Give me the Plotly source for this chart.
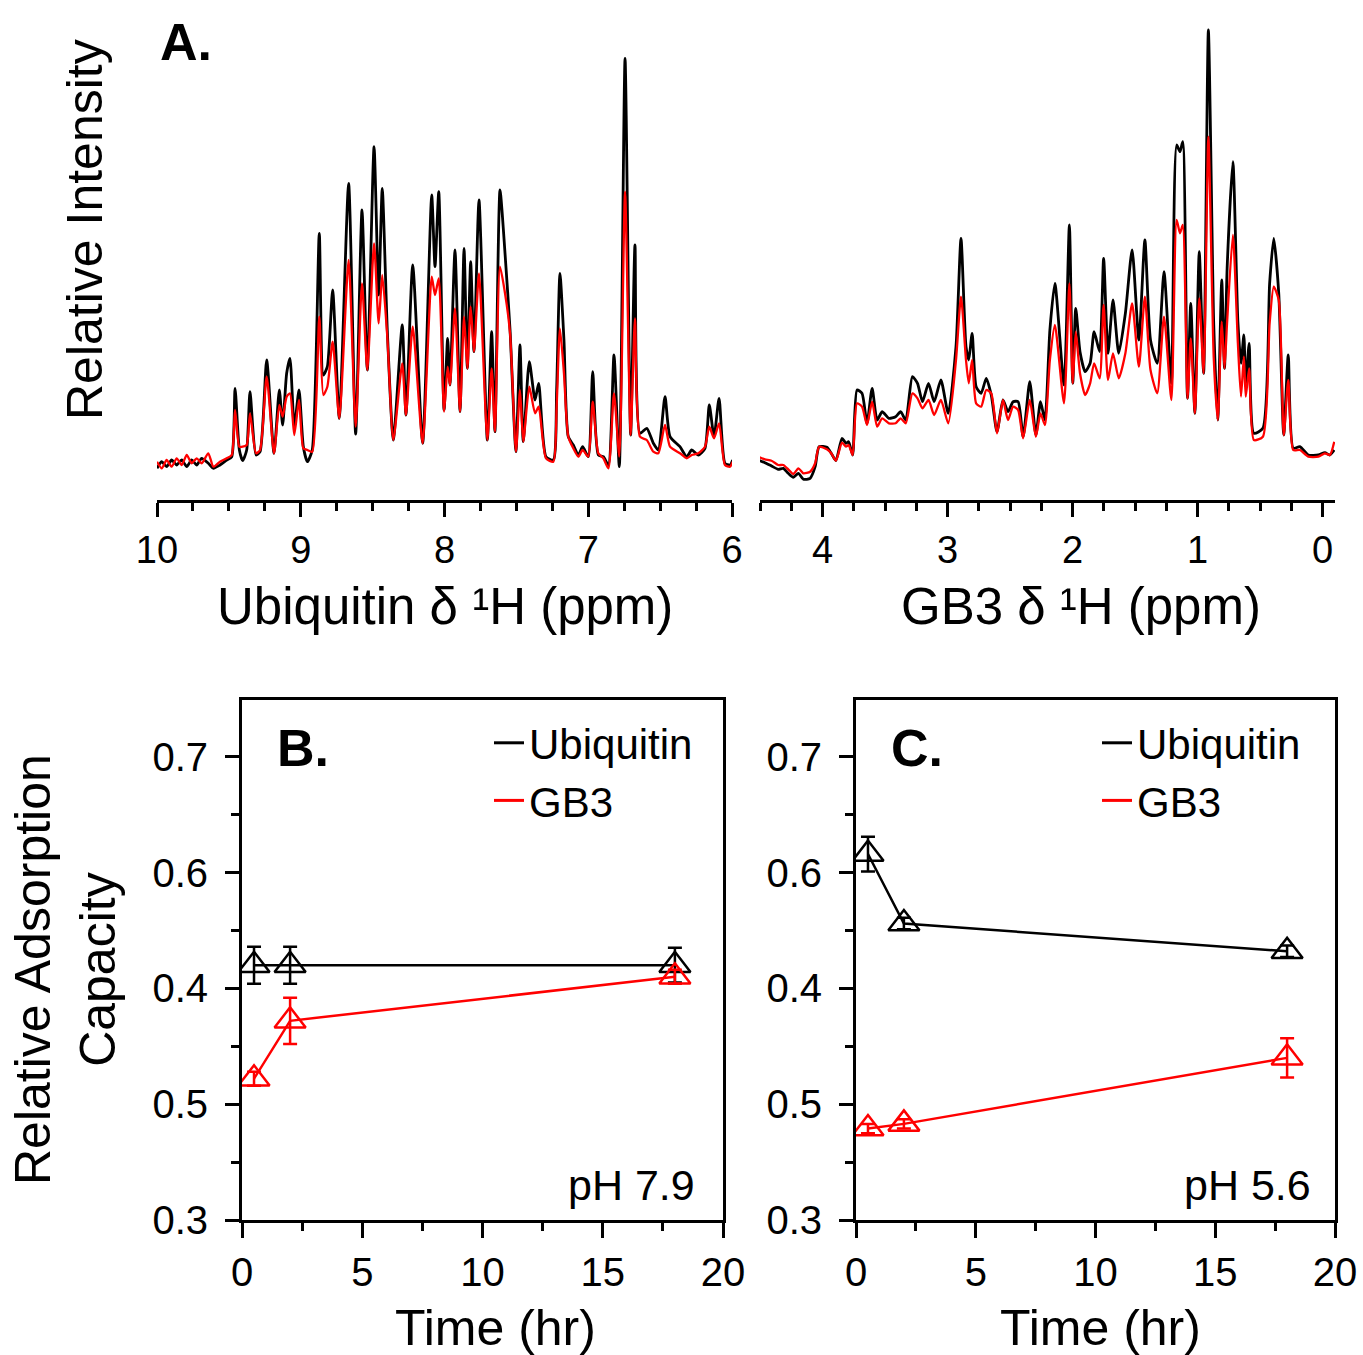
import plotly.graph_objects as go

W, H = 1363, 1355
FONT = "Liberation Sans, Arial, Helvetica, sans-serif"

# ---------------- Panel A: 1H spectra (relative intensity, arbitrary units) -------------
ubq_ppm = [10.00, 9.967, 9.933, 9.898, 9.863, 9.828, 9.793, 9.759, 9.724, 9.689, 9.643, 9.608, 9.562, 9.515,
           9.480, 9.457, 9.427, 9.404, 9.376, 9.353, 9.311, 9.283, 9.237, 9.186, 9.149, 9.126, 9.098, 9.075,
           9.045, 9.012, 8.982, 8.954, 8.920, 8.871, 8.843, 8.815, 8.778, 8.732, 8.667, 8.618, 8.574, 8.537,
           8.490, 8.458, 8.433, 8.398, 8.356, 8.294, 8.268, 8.221, 8.152, 8.089, 8.066, 8.040, 8.003, 7.978,
           7.962, 7.927, 7.892, 7.864, 7.841, 7.818, 7.795, 7.760, 7.702, 7.672, 7.649, 7.614, 7.579, 7.544,
           7.503, 7.475, 7.452, 7.410, 7.370, 7.345, 7.294, 7.243, 7.220, 7.197, 7.169, 7.139, 7.104, 7.069,
           7.039, 7.000, 6.969, 6.930, 6.895, 6.860, 6.821, 6.784, 6.744, 6.705, 6.675, 6.640, 6.593, 6.547,
           6.513, 6.466, 6.431, 6.362, 6.315, 6.280, 6.234, 6.188, 6.158, 6.125, 6.090, 6.049, 6.014, 5.995]
ubq_black = [1.7, 8.3, 3.3, 10, 5, 10, 3.3, 10, 5, 11.7, 6.7, 1.7, 5, 10,
             13.3, 81.7, 20, 9.3, 20, 78.3, 15, 18.3, 110, 16.7, 80, 45, 96.7, 111.7,
             43.3, 80, 23.3, 8.3, 20, 236.7, 95, 103.3, 180, 51.7, 286.7, 36, 260, 100,
             323.3, 175, 281.7, 140, 30, 145, 55, 205, 26.7, 275, 203.3, 278.3, 60, 131.7,
             85, 220, 58.3, 221.7, 101.7, 208.3, 118.3, 270, 30, 138.3, 38.3, 280, 216.7, 140,
             18.3, 125, 28.3, 108.3, 70, 86.7, 13.3, 10, 80, 196.7, 130, 33.3, 25, 15,
             23.3, 13.3, 98.3, 15, 13.3, 5, 115, 3.3, 411.7, 35, 225, 36.7, 41.7, 26.7,
             20, 73.3, 33.3, 23.3, 13.3, 20, 15, 21.7, 65, 33.3, 71.7, 6.7, 5, 10]
ubq_red = [8.3, 1.7, 10, 3.3, 11.7, 5, 15, 6.7, 11.7, 6.7, 16.7, 3.3, 8.3, 11.7,
           15, 60, 23.3, 23.3, 25, 56.7, 16.7, 20, 93.3, 16.7, 65, 53.3, 73.3, 76.7,
           35, 70, 21.7, 20, 18.3, 153.3, 75, 83.3, 128.3, 51.7, 210, 43.3, 186.7, 100,
           226.7, 146.7, 195, 133.3, 30, 106.7, 55, 143.3, 26.7, 193.3, 175, 191.7, 58.3, 103.3,
           85, 161.7, 58.3, 153.3, 101.7, 163.3, 118.3, 196.7, 30, 101.7, 38.3, 203.3, 176.7, 136.7,
           18.3, 80, 28.3, 83.3, 56.7, 63.3, 11.7, 8.3, 63.3, 141.7, 96.7, 33.3, 21.7, 13.3,
           20, 13.3, 68.3, 16.7, 11.7, 1.7, 76.7, 13.3, 278.3, 35, 151.7, 33.3, 30, 18.3,
           16.7, 45, 23.3, 16.7, 11.7, 15, 16.7, 23.3, 43.3, 31.7, 46.7, 5, 3.3, 8.3]

gb3_ppm = [4.515, 4.461, 4.408, 4.354, 4.314, 4.274, 4.233, 4.193, 4.153, 4.099, 4.059, 4.027, 3.965, 3.930,
           3.893, 3.844, 3.812, 3.791, 3.759, 3.724, 3.684, 3.644, 3.603, 3.563, 3.523, 3.469, 3.415, 3.375,
           3.334, 3.281, 3.240, 3.200, 3.152, 3.107, 3.053, 2.994, 2.932, 2.892, 2.852, 2.830, 2.803, 2.771,
           2.731, 2.690, 2.650, 2.604, 2.556, 2.516, 2.475, 2.435, 2.395, 2.342, 2.293, 2.256, 2.221, 2.181,
           2.141, 2.068, 2.025, 1.998, 1.974, 1.940, 1.899, 1.859, 1.827, 1.783, 1.751, 1.716, 1.676, 1.630,
           1.577, 1.523, 1.469, 1.421, 1.376, 1.322, 1.268, 1.209, 1.167, 1.140, 1.118, 1.080, 1.054, 1.021,
           0.986, 0.951, 0.913, 0.870, 0.838, 0.806, 0.784, 0.763, 0.717, 0.677, 0.652, 0.629, 0.614, 0.587,
           0.549, 0.477, 0.423, 0.390, 0.350, 0.310, 0.274, 0.234, 0.181, 0.114, 0.033, -0.019, -0.059, -0.094]
gb3_black = [10, 7.3, 4, 0.7, 1.7, -3.3, -7.3, -3.3, -9.3, -8.3, 3.3, 23.3, 22.7, 16.7,
             9.3, 31.7, 26.7, 28.3, 15, 80, 76.7, 46.7, 81.7, 50, 58.3, 51.7, 53.3, 58.3,
             50, 93.3, 86.7, 68.3, 86.7, 68.3, 90, 56.7, 123.3, 231.7, 123.3, 110, 136.7, 83.3,
             76.7, 91.7, 75, 38.3, 70, 58.3, 68.3, 68.3, 33.3, 88.3, 35, 68.3, 50, 140,
             186.7, 85, 245, 86.7, 161.7, 118.3, 98.3, 106.7, 138.3, 118.3, 211.7, 116.7, 170, 116.7,
             156.7, 220, 130, 230, 130, 106.7, 198.3, 86.7, 325, 318.3, 328.3, 71.7, 166.7, 56.7,
             218.3, 96.7, 440, 145, 50, 190, 101.7, 201.7, 308.3, 148.3, 106.7, 135, 83.3, 126.7,
             36.7, 41.7, 186.7, 231.7, 176.7, 35, 115, 21.7, 23.3, 15, 15, 17.3, 15, 20]
gb3_red = [13.3, 10.7, 9.3, 5, 5, 0.7, -4, 1.7, -3.3, -1.7, 6.7, 23.3, 20.7, 16.7,
           9.3, 27.3, 23.3, 25, 15, 66.7, 63.3, 45, 68.3, 43.3, 51.7, 46.7, 46.7, 51.7,
           46.7, 76.7, 71.7, 61.7, 70, 55, 70, 46.7, 110, 173.3, 110, 86.7, 110, 66.7,
           63.3, 80, 76.7, 36.7, 70, 50, 63.3, 60, 31.7, 70, 33.3, 56.7, 45, 110,
           145, 66.7, 186.7, 86.7, 138.3, 96.7, 75, 86.7, 106.7, 91.7, 165, 90, 116.7, 91.7,
           116.7, 166.7, 103.3, 173.3, 100, 76.7, 153.3, 70, 250, 236.7, 245, 71.7, 131.7, 56.7,
           171.7, 96.7, 333.3, 111.7, 50, 148.3, 101.7, 148.3, 235, 126.7, 73.3, 113.3, 73.3, 101.7,
           30, 33.3, 146.7, 183.3, 170, 35, 90, 20, 20, 13.3, 13.3, 16.7, 15, 28.3]

assert len(ubq_ppm) == len(ubq_black) == len(ubq_red), (len(ubq_ppm), len(ubq_black), len(ubq_red))
assert len(gb3_ppm) == len(gb3_black) == len(gb3_red), (len(gb3_ppm), len(gb3_black), len(gb3_red))

# ---------------- Panels B and C: adsorption capacity vs time ----------------
time_hr = [0.5, 2, 18]
b_ubq = [0.520, 0.520, 0.520]
b_ubq_err = [0.016, 0.016, 0.015]
b_gb3 = [0.422, 0.472, 0.510]
b_gb3_err = [0.006, 0.020, 0.006]
c_ubq = [0.616, 0.556, 0.532]
c_ubq_err = [0.015, 0.005, 0.005]
c_gb3 = [0.379, 0.383, 0.440]
c_gb3_err = [0.004, 0.004, 0.017]

y_tickvals = [0.3, 0.4, 0.5, 0.6, 0.7]
y_ticktext = ["0.3", "0.5", "0.4", "0.6", "0.7"]
x_tickvals_time = [0, 5, 10, 15, 20]

BLACK = "#000000"
RED = "#ff0000"

fig = go.Figure()

# spectra
for xs, ys, col, wd, xa, ya in [(ubq_ppm, ubq_black, BLACK, 2.8, "x", "y"),
                                 (ubq_ppm, ubq_red, RED, 2.3, "x", "y"),
                                 (gb3_ppm, gb3_black, BLACK, 2.8, "x2", "y2"),
                                 (gb3_ppm, gb3_red, RED, 2.3, "x2", "y2")]:
    fig.add_trace(go.Scatter(x=xs, y=ys, mode="lines",
                             line=dict(color=col, width=wd, shape="spline", smoothing=0.6),
                             xaxis=xa, yaxis=ya, showlegend=False))


def series(x, y, err, color, xa, ya):
    return go.Scatter(
        x=x, y=y, mode="lines+markers", xaxis=xa, yaxis=ya, showlegend=False,
        line=dict(color=color, width=2.5),
        marker=dict(symbol="triangle-up-open", size=27, color=color, line=dict(width=2.5, color=color)),
        error_y=dict(type="data", array=err, visible=True, color=color, thickness=2.5, width=7),
    )


fig.add_trace(series(time_hr, b_ubq, b_ubq_err, BLACK, "x3", "y3"))
fig.add_trace(series(time_hr, b_gb3, b_gb3_err, RED, "x3", "y3"))
fig.add_trace(series(time_hr, c_ubq, c_ubq_err, BLACK, "x4", "y4"))
fig.add_trace(series(time_hr, c_gb3, c_gb3_err, RED, "x4", "y4"))

# legend-only entries
for name, color, lg in [("Ubiquitin", BLACK, "legend"), ("GB3", RED, "legend"),
                        ("Ubiquitin", BLACK, "legend2"), ("GB3", RED, "legend2")]:
    fig.add_trace(go.Scatter(x=[None], y=[None], mode="lines", name=name,
                             line=dict(color=color, width=3), legend=lg,
                             xaxis="x3" if lg == "legend" else "x4",
                             yaxis="y3" if lg == "legend" else "y4"))


def px_x(p):
    return p / W


def px_y(p):
    return 1 - p / H


spec_x_common = dict(
    automargin=False,
    showline=True, linecolor="black", linewidth=3, ticks="outside", ticklen=14, tickwidth=3,
    tickcolor="black", dtick=1, tick0=0, showgrid=False, zeroline=False,
    tickfont=dict(size=38, family=FONT, color="black"),
    minor=dict(ticks="outside", ticklen=8, tickwidth=3, tickcolor="black", dtick=0.25, showgrid=False),
)
spec_y_common = dict(automargin=False, range=[-30, 460], visible=False, showgrid=False, zeroline=False)

time_x_common = dict(
    automargin=False,
    range=[0, 20], tickvals=x_tickvals_time, showline=True, mirror=True, linecolor="black", linewidth=3,
    ticks="outside", ticklen=15, tickwidth=3, tickcolor="black", showgrid=False, zeroline=False,
    tickfont=dict(size=40, family=FONT, color="black"),
    minor=dict(ticks="outside", ticklen=8, tickwidth=3, tickcolor="black", dtick=2.5, showgrid=False),
)
time_y_common = dict(
    automargin=False,
    range=[0.3, 0.749], tickvals=y_tickvals, ticktext=y_ticktext, showline=True, mirror=True,
    linecolor="black", linewidth=3, ticks="outside", ticklen=14, tickwidth=3, tickcolor="black",
    ticklabelstandoff=9,
    showgrid=False, zeroline=False, tickfont=dict(size=40, family=FONT, color="black"),
    minor=dict(ticks="outside", ticklen=8, tickwidth=3, tickcolor="black",
               tickvals=[0.35, 0.45, 0.55, 0.65], showgrid=False),
)

fig.update_layout(
    template="none",
    width=W, height=H, autosize=False,
    margin=dict(l=0, r=0, t=0, b=0, pad=0),
    paper_bgcolor="white", plot_bgcolor="rgba(0,0,0,0)",
    font=dict(family=FONT, color="black"),
    xaxis=dict(domain=[px_x(157), px_x(732)], anchor="y", range=[10, 6], **spec_x_common),
    yaxis=dict(domain=[px_y(500), px_y(10)], anchor="x", **spec_y_common),
    xaxis2=dict(domain=[px_x(760), px_x(1335)], anchor="y2", range=[4.5, -0.1], **spec_x_common),
    yaxis2=dict(domain=[px_y(500), px_y(10)], anchor="x2", **spec_y_common),
    xaxis3=dict(domain=[px_x(242), px_x(723)], anchor="y3", **time_x_common),
    yaxis3=dict(domain=[px_y(1220), px_y(700)], anchor="x3", **time_y_common),
    xaxis4=dict(domain=[px_x(856), px_x(1335)], anchor="y4", **time_x_common),
    yaxis4=dict(domain=[px_y(1220), px_y(700)], anchor="x4", **time_y_common),
    legend=dict(x=px_x(698), y=px_y(709), xanchor="right", yanchor="top", bgcolor="rgba(0,0,0,0)",
                font=dict(size=42, family=FONT, color="black"), tracegroupgap=0, itemwidth=30),
    legend2=dict(x=px_x(1306), y=px_y(709), xanchor="right", yanchor="top", bgcolor="rgba(0,0,0,0)",
                 font=dict(size=42, family=FONT, color="black"), tracegroupgap=0, itemwidth=30),
)

ann = []


def add_text(text, x, y, size, xanchor="center", yanchor="middle", bold=False, angle=0):
    if bold:
        text = "<b>" + text + "</b>"
    ann.append(dict(text=text, x=px_x(x), y=px_y(y), xref="paper", yref="paper", showarrow=False,
                    xanchor=xanchor, yanchor=yanchor, textangle=angle,
                    font=dict(size=size, family=FONT, color="black")))


add_text("A.", 158, 42, 52, xanchor="left", bold=True)
add_text("B.", 275, 748, 52, xanchor="left", bold=True)
add_text("C.", 889, 748, 52, xanchor="left", bold=True)
add_text("pH 7.9", 697, 1185, 43, xanchor="right")
add_text("pH 5.6", 1313, 1185, 43, xanchor="right")
add_text("Ubiquitin δ ¹H (ppm)", 445, 607, 51)
add_text("GB3 δ ¹H (ppm)", 1081, 607, 51)
add_text("Time (hr)", 495, 1328, 50)
add_text("Time (hr)", 1100, 1328, 50)
add_text("Relative Intensity", 85, 230, 50, angle=-90)
add_text("Relative Adsorption<br>Capacity", 65, 970, 50, angle=-90)

fig.update_layout(annotations=ann)

fig.write_html(
    "out.html",
    config={"displayModeBar": False},
    post_script="document.body.style.margin='0';document.body.style.padding='0';"
                "document.documentElement.style.overflow='hidden';",
)
